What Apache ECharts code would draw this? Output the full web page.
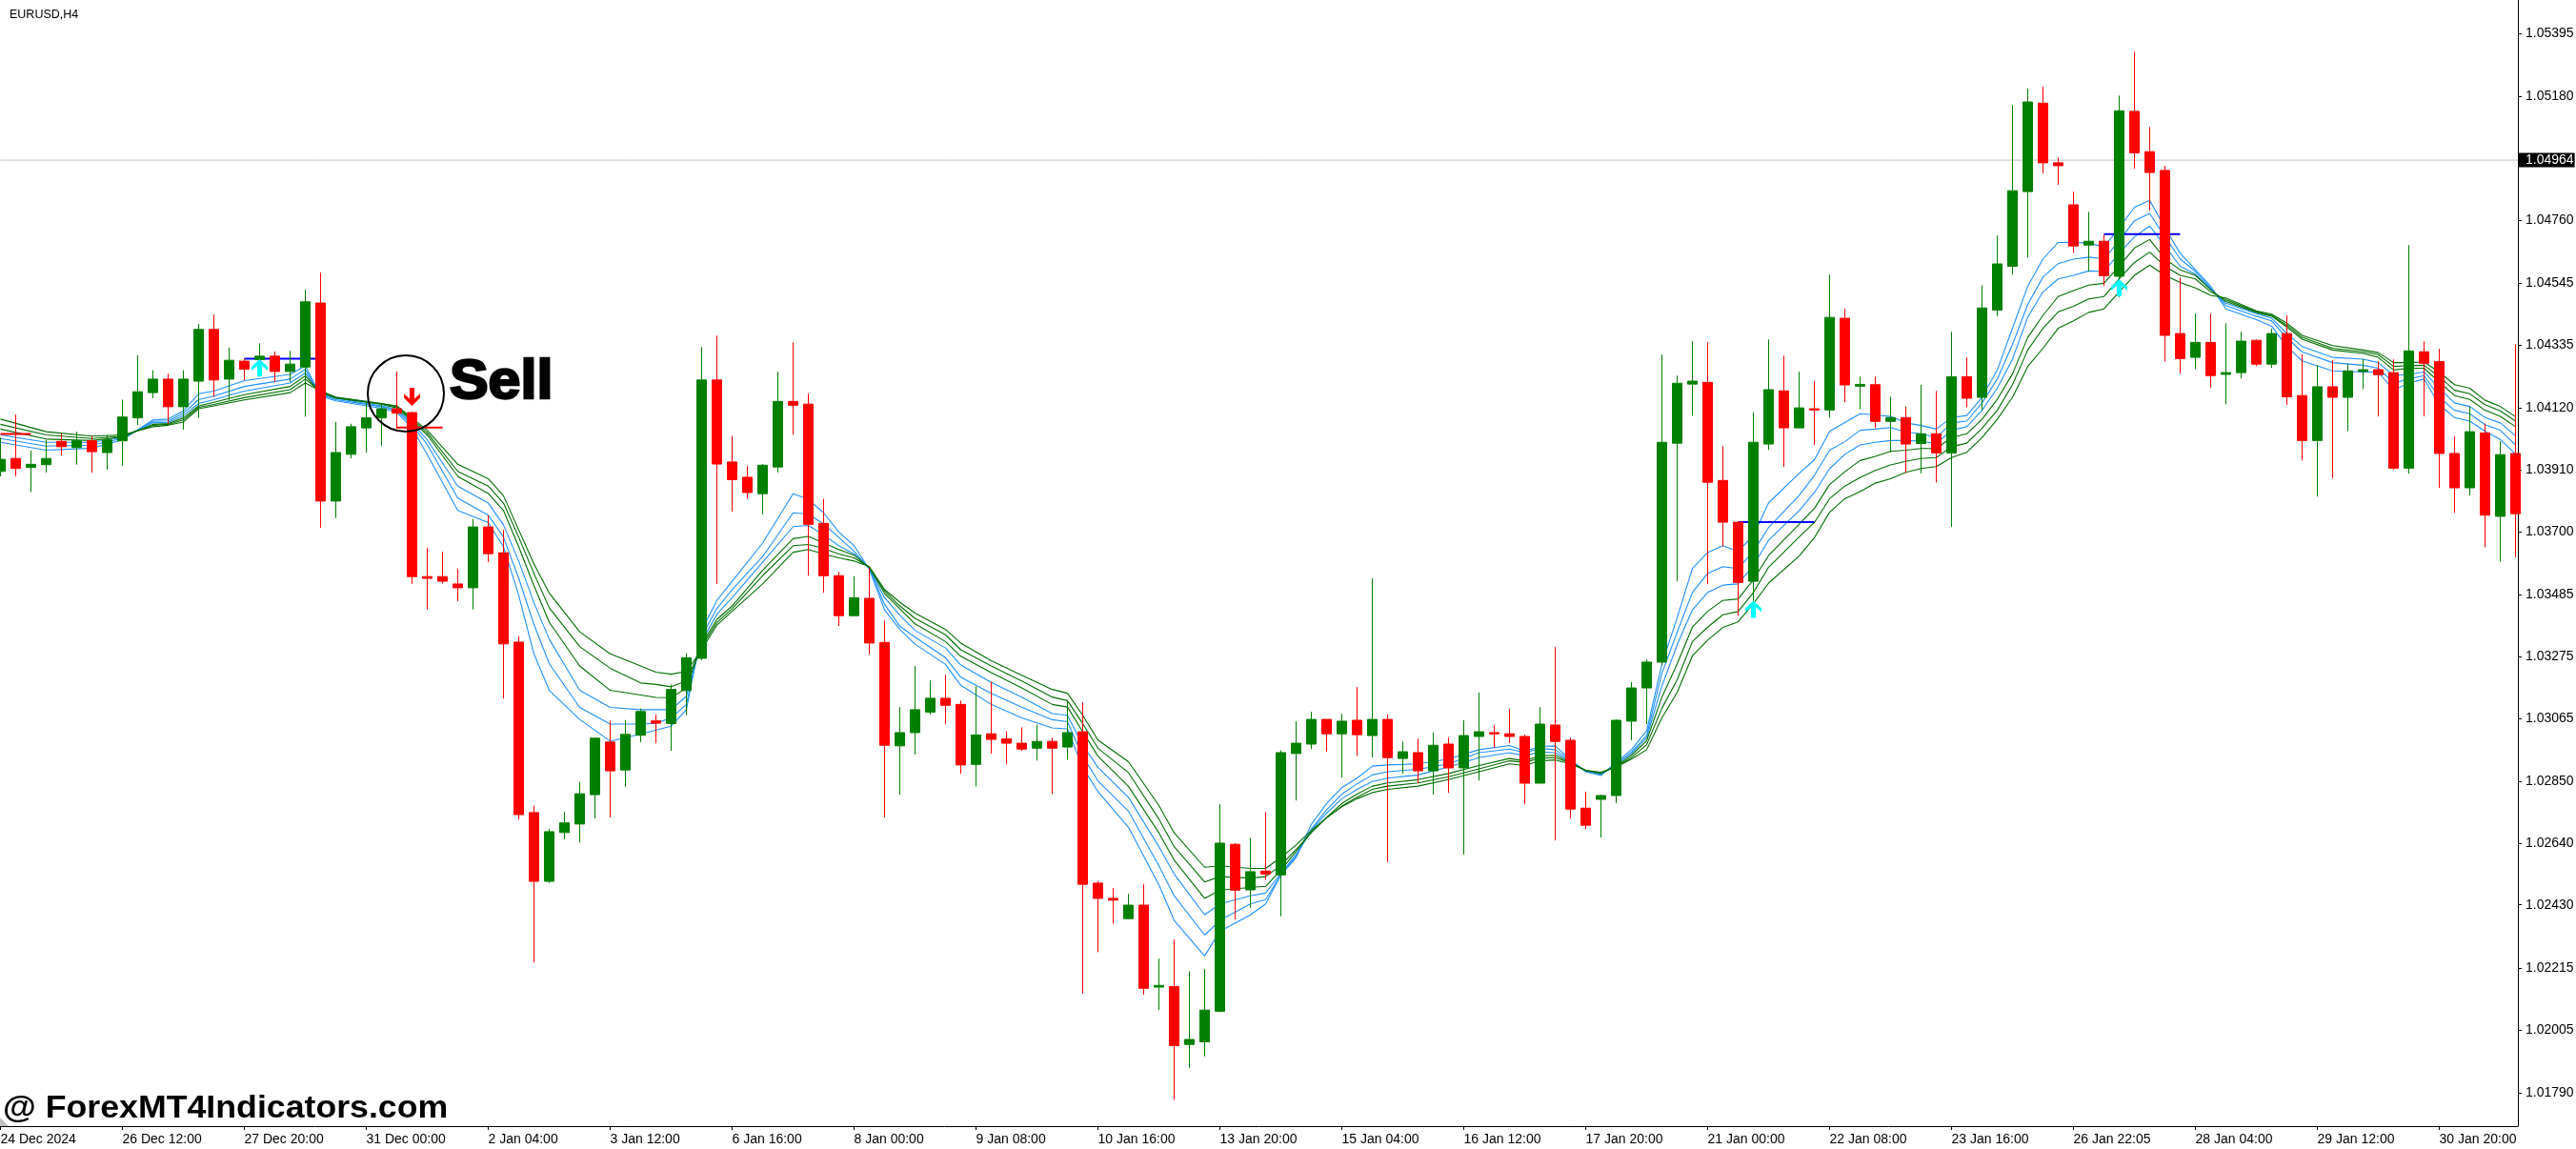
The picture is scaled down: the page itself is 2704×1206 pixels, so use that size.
<!DOCTYPE html>
<html><head><meta charset="utf-8">
<style>html,body{margin:0;padding:0;background:#fff}#c{width:2704px;height:1206px}</style>
<script src="https://cdn.jsdelivr.net/npm/echarts@6/dist/echarts.min.js"></script>
</head><body><div id="c"></div>
<script>
// All prices are in MT4 points (price x 100000).
const symbolTitle = 'EURUSD,H4';
const timeLabels = ['24 Dec 2024','26 Dec 12:00','27 Dec 20:00','31 Dec 00:00','2 Jan 04:00','3 Jan 12:00','6 Jan 16:00','8 Jan 00:00','9 Jan 08:00','10 Jan 16:00','13 Jan 20:00','15 Jan 04:00','16 Jan 12:00','17 Jan 20:00','21 Jan 00:00','22 Jan 08:00','23 Jan 16:00','26 Jan 22:05','28 Jan 04:00','29 Jan 12:00','30 Jan 20:00'];
const priceTicks = [1.05395,1.05180,1.04760,1.04545,1.04335,1.04120,1.03910,1.03700,1.03485,1.03275,1.03065,1.02850,1.02640,1.02430,1.02215,1.02005,1.01790];
const bidPrice = 1.04964;
const opens = [103905,103949,103919,103928,104007,103986,104009,103969,104009,104087,104173,104219,104125,104212,104388,104219,104280,104285,104297,104245,104260,104478,103804,103963,104053,104087,104118,104105,103547,103547,103522,103509,103716,103628,103324,102744,102510,102676,102705,102805,102984,102889,103007,103056,103047,103159,103269,104216,103937,103885,103829,103920,104143,104134,103728,103550,103414,103473,103323,102971,103016,103086,103133,103112,102908,103012,102995,102980,102963,102986,102967,103019,102504,102452,102383,102429,102150,102152,101955,101964,102068,102636,102481,102545,102532,102945,102977,103061,103012,103058,103006,103061,102928,102948,102886,102977,102896,103003,103016,103012,103003,102844,103042,102990,102759,102789,102802,103055,103168,103256,104001,104202,104208,103874,103732,103531,103998,104179,104053,104118,104114,104426,104195,104200,104075,104088,104000,104033,103968,104227,104157,104454,104603,104857,105158,104955,104812,104675,104688,104569,105130,104993,104929,104374,104293,104344,104235,104241,104351,104270,104374,104163,104010,104193,104157,104245,104251,104241,103916,104312,104279,103966,103849,104036,103752,103966];
const closes = [103946,103915,103929,103949,103989,104009,103972,104012,104090,104176,104219,104125,104219,104388,104216,104283,104253,104297,104245,104270,104482,103804,103969,104057,104087,104118,104103,103547,103541,103531,103509,103716,103625,103318,102737,102510,102679,102709,102808,102997,102886,103010,103088,103048,103163,103271,104216,103930,103877,103833,103926,104143,104130,103725,103550,103414,103475,103321,102973,103016,103094,103133,103109,102906,103008,102993,102980,102960,102986,102963,103016,102500,102452,102446,102429,102146,102156,101951,101972,102072,102640,102480,102543,102535,102948,102980,103061,103012,103055,103009,103061,102931,102951,102886,102973,102896,103006,103019,103012,103003,102844,103045,102986,102756,102701,102802,103058,103168,103256,104004,104205,104212,103868,103732,103527,104004,104183,104053,104121,104114,104429,104199,104201,104075,104088,103998,104033,103968,104227,104154,104461,104611,104860,105162,104955,104945,104672,104688,104571,105132,104989,104922,104368,104289,104344,104231,104241,104348,104270,104374,104159,104010,104193,104157,104247,104251,104234,103916,104315,104273,103966,103849,104040,103756,103962,103761];
const lows = [103888,103888,103835,103901,103959,103928,103901,103911,103924,104063,104154,104067,104047,104087,104158,104148,104216,104227,104209,104209,104091,103713,103746,103949,103969,103992,104050,103522,103435,103524,103463,103435,103597,103132,102720,102234,102504,102653,102642,102724,102727,102831,102984,102980,102954,103075,103263,103522,103768,103812,103758,103901,104030,103550,103492,103379,103414,103282,102727,102805,102941,103077,103045,102876,102833,102945,102908,102954,102921,102807,102924,102128,102269,102366,102383,102124,102072,101767,101875,101914,102065,102381,102420,102515,102391,102785,102960,102951,102863,102937,102931,102575,102876,102845,102805,102811,102601,102853,102964,102980,102772,102844,102649,102724,102688,102659,102776,102990,103045,103245,103531,104095,103521,103650,103414,103440,103978,103920,104053,103995,104088,104140,104116,104052,103970,103900,103898,103867,103716,104123,104113,104433,104575,104633,104919,104880,104649,104585,104536,104498,104935,104792,104279,104237,104253,104189,104133,104221,104263,104257,104131,103942,103819,103881,104042,104185,104092,103910,103897,104092,103849,103764,103823,103647,103598,103612];
const highs = [104020,104098,103976,104012,104034,104040,104025,104029,104149,104300,104249,104237,104249,104406,104439,104326,104288,104341,104313,104315,104523,104581,104073,104067,104145,104136,104245,104108,103645,103632,103574,103743,103756,103706,103344,102767,102689,102747,102848,103000,103056,103059,103098,103078,103180,103286,104328,104367,104026,103924,103930,104244,104344,104170,103812,103563,103548,103578,103397,103103,103243,103194,103213,103125,103174,103189,103021,103034,103043,102999,103122,103120,102511,102487,102467,102500,102247,102312,102204,102212,102772,102640,102658,102746,102956,103055,103087,103061,103080,103171,103541,103077,102986,102996,103016,102999,103058,103152,103042,103097,103009,103103,103307,102999,102815,102805,103061,103188,103265,104303,104231,104348,104345,103991,103735,104105,104354,104299,104244,104212,104575,104458,104228,104227,104159,104126,104200,104179,104380,104293,104538,104708,105152,105207,105214,104973,104857,104788,104711,105184,105333,105077,104945,104564,104442,104442,104409,104380,104354,104391,104436,104304,104267,104283,104272,104287,104279,104286,104675,104348,104322,104024,104126,104068,104008,104337];
const ribbonBars = [0,3,6,8,10,11,12,13,14,16,19,20,21,22,25,26,27,28,30,32,33,34,35,36,38,40,42,43,44,45,46,47,48,50,52,53,54,55,56,57,58,59,60,62,63,65,67,69,70,71,72,74,76,77,79,80,82,83,84,85,86,87,88,89,90,91,93,95,97,99,100,101,102,103,104,105,106,107,108,109,110,111,112,113,114,115,116,118,119,120,121,122,123,124,125,126,127,128,129,130,131,132,133,134,135,136,137,138,139,140,141,142,143,144,145,146,148,149,150,151,153,155,156,157,158,159,160,161,162,163,164,165];
const blue1 = [104004,103977,103984,104012,104080,104083,104111,104169,104178,104214,104235,104264,104161,104145,104120,104106,104054,103962,103772,103731,103648,103483,103284,103160,103061,102987,103011,103025,103038,103094,103364,103466,103531,103661,103829,103810,103764,103699,103652,103572,103434,103367,103317,103248,103177,103112,103066,103032,103029,102898,102815,102694,102498,102377,102256,102340,102396,102433,102531,102591,102704,102775,102829,102861,102902,102906,102910,102926,102958,102972,102953,102969,102971,102923,102883,102870,102915,102958,103023,103250,103407,103575,103629,103652,103633,103687,103798,103898,103944,104041,104071,104101,104097,104092,104070,104061,104049,104088,104095,104157,104250,104392,104535,104628,104684,104684,104682,104669,104734,104804,104827,104734,104647,104591,104535,104458,104421,104399,104330,104281,104247,104243,104243,104181,104206,104219,104132,104088,104076,104041,104014,103964];
const blue2 = [104017,103991,103994,104017,104075,104077,104103,104149,104161,104194,104219,104252,104166,104149,104125,104113,104063,103996,103814,103756,103681,103541,103384,103251,103102,103045,103045,103048,103066,103112,103345,103438,103503,103615,103764,103760,103726,103680,103633,103574,103453,103378,103341,103271,103205,103150,103103,103060,103053,102936,102852,102749,102563,102461,102327,102377,102433,102448,102532,102596,102688,102753,102807,102842,102872,102883,102891,102910,102948,102960,102948,102962,102958,102920,102885,102874,102910,102950,103007,103218,103358,103493,103558,103581,103574,103633,103714,103823,103891,103977,104006,104045,104049,104054,104039,104033,104020,104070,104076,104138,104219,104337,104473,104566,104612,104627,104634,104628,104690,104758,104783,104703,104628,104585,104529,104469,104433,104417,104359,104312,104275,104266,104256,104206,104219,104231,104157,104113,104101,104064,104045,103995];
const blue3 = [104029,104004,104004,104020,104070,104072,104095,104136,104149,104178,104206,104240,104169,104153,104128,104116,104070,104012,103855,103797,103723,103599,103458,103334,103160,103102,103094,103094,103094,103140,103326,103419,103475,103596,103717,103721,103689,103652,103624,103576,103475,103416,103364,103304,103246,103187,103137,103081,103075,102973,102898,102796,102628,102535,102396,102433,102461,102470,102537,102602,102683,102742,102791,102823,102850,102861,102872,102899,102931,102948,102937,102950,102948,102917,102887,102876,102906,102945,102999,103175,103315,103434,103493,103518,103522,103585,103671,103771,103833,103914,103963,103995,104004,104010,104010,104008,103999,104045,104057,104113,104188,104287,104430,104516,104560,104572,104587,104585,104647,104703,104740,104672,104603,104576,104525,104477,104442,104426,104374,104330,104293,104287,104275,104231,104235,104243,104188,104138,104126,104088,104070,104026];
const green1 = [104049,104015,104010,104022,104065,104068,104087,104128,104140,104166,104194,104230,104173,104155,104133,104121,104077,104029,103888,103830,103772,103648,103516,103392,103243,103160,103144,103136,103135,103168,103317,103401,103447,103568,103676,103684,103661,103639,103620,103578,103490,103438,103386,103326,103276,103220,103168,103112,103103,103019,102936,102833,102675,102582,102452,102480,102489,102493,102548,102612,102677,102728,102775,102807,102834,102845,102856,102877,102904,102928,102920,102937,102939,102915,102887,102877,102902,102939,102989,103137,103250,103375,103429,103466,103471,103536,103619,103725,103779,103860,103904,103942,103956,103973,103977,103983,103983,104020,104033,104082,104150,104237,104361,104436,104500,104520,104539,104545,104603,104665,104694,104628,104591,104572,104523,104483,104446,104433,104396,104355,104318,104306,104293,104250,104256,104256,104209,104163,104150,104113,104092,104057];
const green2 = [104065,104029,104017,104025,104062,104065,104080,104123,104133,104156,104183,104219,104176,104156,104135,104125,104082,104037,103905,103855,103797,103681,103557,103441,103309,103235,103185,103180,103172,103192,103308,103391,103438,103550,103652,103656,103643,103624,103611,103579,103498,103447,103405,103349,103298,103243,103192,103137,103125,103047,102963,102880,102722,102628,102508,102526,102521,102526,102564,102618,102677,102726,102766,102796,102823,102834,102845,102866,102893,102920,102915,102929,102931,102913,102887,102879,102901,102931,102975,103099,103196,103326,103375,103417,103428,103493,103579,103682,103731,103812,103855,103884,103908,103927,103939,103949,103952,103989,104001,104051,104113,104200,104318,104392,104448,104467,104492,104500,104560,104616,104651,104603,104572,104560,104516,104489,104448,104436,104402,104361,104324,104312,104302,104262,104265,104266,104227,104181,104169,104132,104111,104076];
const green3 = [104083,104040,104025,104029,104057,104062,104073,104118,104128,104148,104173,104206,104179,104158,104136,104128,104087,104045,103929,103880,103822,103706,103590,103491,103359,103284,103243,103222,103215,103224,103298,103382,103429,103522,103630,103639,103624,103611,103600,103581,103503,103460,103423,103367,103321,103261,103211,103163,103150,103075,102991,102917,102768,102675,102558,102563,102554,102554,102591,102634,102683,102726,102764,102791,102812,102823,102834,102856,102883,102910,102904,102920,102923,102910,102888,102881,102899,102926,102958,103066,103153,103277,103331,103374,103393,103455,103525,103617,103679,103766,103812,103836,103865,103880,103902,103915,103921,103952,103970,104020,104082,104157,104262,104324,104392,104417,104446,104458,104516,104572,104607,104572,104548,104529,104504,104495,104451,104440,104409,104368,104333,104318,104309,104275,104275,104277,104243,104200,104188,104147,104126,104091];
const blueLevels = [{from:16,to:21,price:104288},{from:114,to:119,price:103732},{from:138,to:143,price:104712}];
const redLevels = [{from:0,to:2,price:104032},{from:26,to:29,price:104054}];
const buyArrowBars = [17,115,139];
const buyArrowPrices = [104258,103436,104530];
const sellArrowBars = [27];
const sellArrowPrices = [104159];
const sellText = 'Sell';
const watermark = '@ ForexMT4Indicators.com';

const pt = v => v / 1e5;
const arrowPath = 'path://M8.5 0L17 8L17 12L11 7L11 18L6 18L6 7L0 12L0 8Z';
const ribbonSeries = (vals, color) => ({
  type:'line', data: vals.map((v,k)=>[ribbonBars[k], pt(v)]), showSymbol:false, symbol:'none',
  lineStyle:{color, width:1.1}, itemStyle:{color}, z:2, silent:true, animation:false
});
const levelSeries = (lv, color) => ({
  type:'line', data:[[lv.from, pt(lv.price)],[lv.to, pt(lv.price)]], showSymbol:false, symbol:'none',
  lineStyle:{color, width:2}, z:3, silent:true, animation:false
});
const chart = echarts.init(document.getElementById('c'), null, {renderer:'canvas', width:2704, height:1206});
chart.setOption({
  animation:false,
  backgroundColor:'#ffffff',
  textStyle:{fontFamily:'Liberation Sans'},
  title:{text:symbolTitle,left:5,top:4,textStyle:{fontSize:12.5,fontWeight:'normal',color:'#000',fontFamily:'Liberation Sans'}},
  grid:{left:0.5,top:0,width:2642.5,height:1182,containLabel:false,outerBoundsMode:'none'},
  xAxis:{type:'value',min:0,max:165.156,interval:8,
    axisLine:{show:true,lineStyle:{color:'#000',width:1}},
    axisTick:{show:true,length:4,lineStyle:{color:'#000'}},
    splitLine:{show:false},
    axisLabel:{show:true,align:'left',margin:7,fontSize:14,color:'#000',fontFamily:'Liberation Sans',showMaxLabel:false,hideOverlap:false,
      formatter:v=>timeLabels[Math.round(v/8)]&&Number.isInteger(v/8)?timeLabels[v/8]:''}},
  yAxis:{type:'value',position:'right',min:1.01677,max:1.05509,
    axisLine:{show:true,onZero:false,lineStyle:{color:'#000',width:1}},
    axisTick:{show:true,length:4,lineStyle:{color:'#000'},customValues:priceTicks},
    splitLine:{show:false},
    axisLabel:{show:true,margin:8,fontSize:14,color:'#000',fontFamily:'Liberation Sans',customValues:priceTicks,
      formatter:v=>v.toFixed(5)}},
  series:[
    {type:'line',data:[[0,bidPrice],[165.156,bidPrice]],showSymbol:false,symbol:'none',silent:true,animation:false,z:1,
     lineStyle:{color:'#c0c0c0',width:1},
     endLabel:{show:true,position:'right',distance:1,formatter:()=>bidPrice.toFixed(5),color:'#fff',backgroundColor:'#000',fontSize:14,padding:[1,1,0,7],fontFamily:'Liberation Sans'}},
    ribbonSeries(blue1,'#1e90ff'),ribbonSeries(blue2,'#1e90ff'),ribbonSeries(blue3,'#1e90ff'),
    ribbonSeries(green1,'#006e00'),ribbonSeries(green2,'#006e00'),ribbonSeries(green3,'#006e00'),
    ...blueLevels.map(l=>levelSeries(l,'#0000ff')),
    ...redLevels.map(l=>levelSeries(l,'#ff0000')),
    {type:'candlestick',barWidth:10,z:5,silent:true,animation:false,
     itemStyle:{color:'#008000',color0:'#ff0000',borderColor:'#008000',borderColor0:'#ff0000',borderColorDoji:null,borderWidth:1},
     data:opens.map((o,i)=>[i,pt(o),pt(closes[i]),pt(lows[i]),pt(highs[i])])},
    {type:'scatter',symbol:arrowPath,symbolSize:[17,18],z:6,silent:true,animation:false,itemStyle:{color:'#00ffff',opacity:1},
     data:buyArrowBars.map((b,k)=>[b,pt(buyArrowPrices[k])])},
    {type:'scatter',symbol:arrowPath,symbolSize:[17,19],symbolRotate:180,z:6,silent:true,animation:false,itemStyle:{color:'#ff0000',opacity:1},
     data:sellArrowBars.map((b,k)=>[b,pt(sellArrowPrices[k])])}
  ],
  graphic:[
    {type:'circle',shape:{cx:426,cy:413,r:40},style:{fill:'none',stroke:'#000',lineWidth:2},z:10,silent:true},
    {type:'text',x:472,y:373,scaleX:1.05,style:{text:sellText,font:'bold 58px "Liberation Sans"',fill:'#000',stroke:'#000',lineWidth:2.5},z:10,silent:true},
    {type:'text',x:3,y:1147,scaleX:1.05,style:{text:watermark,font:'bold 34px "Liberation Sans"',fill:'#000'},z:10,silent:true},
    {type:'polygon',shape:{points:[[0,1173],[9,1182],[0,1182]]},style:{fill:'#c0c0c0'},z:9,silent:true}
  ]
});
if([opens,closes,lows,highs].some(a=>a.length!==166)||[blue1,blue2,blue3,green1,green2,green3].some(a=>a.length!==ribbonBars.length)) console.error('length mismatch');
</script></body></html>
